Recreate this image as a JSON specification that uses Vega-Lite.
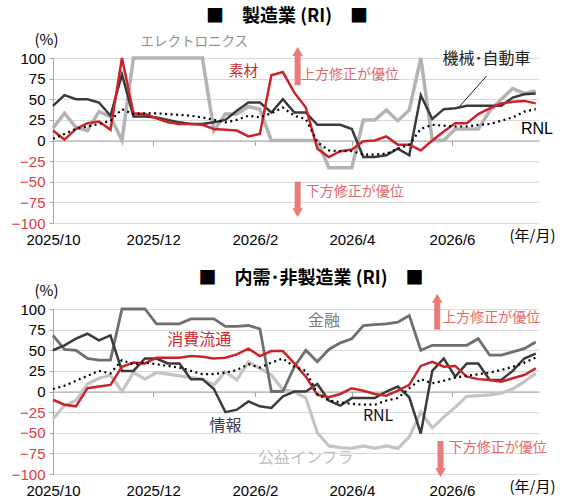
{
  "$schema": "https://vega.github.io/schema/vega-lite/v6.json",
  "padding": {"left": 11, "top": 8, "right": 0, "bottom": 0},
  "background": "#ffffff",
  "bounds": "flush",
  "spacing": 86,
  "config": {
    "view": {"stroke": null},
    "font": "Liberation Sans",
    "axisY": {
      "grid": true,
      "gridColor": "#d9d9d9",
      "domainColor": "#a6a6a6",
      "tickColor": "#a6a6a6",
      "tickSize": 4,
      "labelPadding": 4,
      "labelFontSize": 15,
      "titleFont": "Noto Sans CJK JP",
      "titleFontSize": 15,
      "titleFontWeight": "normal",
      "titleColor": "#000000"
    },
    "axisX": {
      "grid": false,
      "tickSize": 5,
      "domainColor": "#a6a6a6",
      "tickColor": "#a6a6a6",
      "labelFontSize": 15,
      "labelColor": "#000000",
      "labelFlush": false,
      "labelOverlap": false,
      "titleFont": "Noto Sans CJK JP",
      "titleFontSize": 15,
      "titleFontWeight": "normal",
      "titleColor": "#000000"
    }
  },
  "datasets": {
    "mfg": [
      {"date": "2025-10-01", "machinery": 42, "materials": 12, "electronics": 15, "rnl": 2},
      {"date": "2025-10-08", "machinery": 55, "materials": 1, "electronics": 33, "rnl": 8},
      {"date": "2025-10-15", "machinery": 50, "materials": 14, "electronics": 16, "rnl": 14},
      {"date": "2025-10-22", "machinery": 50, "materials": 21, "electronics": 12, "rnl": 17},
      {"date": "2025-10-29", "machinery": 46, "materials": 23, "electronics": 35, "rnl": 20},
      {"date": "2025-11-05", "machinery": 30, "materials": 13, "electronics": 29, "rnl": 24},
      {"date": "2025-11-12", "machinery": 80, "materials": 100, "electronics": 0, "rnl": 38},
      {"date": "2025-11-19", "machinery": 29, "materials": 33, "electronics": 100, "rnl": 32},
      {"date": "2025-11-26", "machinery": 29, "materials": 32, "electronics": 100, "rnl": 33},
      {"date": "2025-12-03", "machinery": 28, "materials": 27, "electronics": 100, "rnl": 33},
      {"date": "2025-12-10", "machinery": 25, "materials": 22, "electronics": 100, "rnl": 32},
      {"date": "2025-12-17", "machinery": 22, "materials": 20, "electronics": 100, "rnl": 31},
      {"date": "2025-12-24", "machinery": 20, "materials": 20, "electronics": 100, "rnl": 30},
      {"date": "2025-12-31", "machinery": 20, "materials": 19, "electronics": 100, "rnl": 28},
      {"date": "2026-01-07", "machinery": 22, "materials": 14, "electronics": 12, "rnl": 25},
      {"date": "2026-01-14", "machinery": 25, "materials": 13, "electronics": 32, "rnl": 22},
      {"date": "2026-01-21", "machinery": 36, "materials": 12, "electronics": 32, "rnl": 25},
      {"date": "2026-01-28", "machinery": 46, "materials": 5, "electronics": 41, "rnl": 30},
      {"date": "2026-02-04", "machinery": 46, "materials": 8, "electronics": 38, "rnl": 28},
      {"date": "2026-02-11", "machinery": 34, "materials": 79, "electronics": 0, "rnl": 33},
      {"date": "2026-02-18", "machinery": 50, "materials": 83, "electronics": 0, "rnl": 40},
      {"date": "2026-02-25", "machinery": 34, "materials": 58, "electronics": 0, "rnl": 30},
      {"date": "2026-03-04", "machinery": 34, "materials": 40, "electronics": 0, "rnl": 26},
      {"date": "2026-03-11", "machinery": 19, "materials": -10, "electronics": 0, "rnl": -2},
      {"date": "2026-03-18", "machinery": 19, "materials": -20, "electronics": -33, "rnl": -12},
      {"date": "2026-03-25", "machinery": 19, "materials": -13, "electronics": -33, "rnl": -13},
      {"date": "2026-04-01", "machinery": 14, "materials": -11, "electronics": -33, "rnl": -13},
      {"date": "2026-04-08", "machinery": -20, "materials": -1, "electronics": 25, "rnl": -17},
      {"date": "2026-04-15", "machinery": -20, "materials": 0, "electronics": 25, "rnl": -17},
      {"date": "2026-04-22", "machinery": -18, "materials": 5, "electronics": 37, "rnl": -16},
      {"date": "2026-04-29", "machinery": -10, "materials": -5, "electronics": 24, "rnl": -10},
      {"date": "2026-05-06", "machinery": -18, "materials": -5, "electronics": 37, "rnl": -5},
      {"date": "2026-05-13", "machinery": 55, "materials": -12, "electronics": 100, "rnl": 14},
      {"date": "2026-05-20", "machinery": 26, "materials": 0, "electronics": 0, "rnl": 19},
      {"date": "2026-05-27", "machinery": 38, "materials": 11, "electronics": 0, "rnl": 18},
      {"date": "2026-06-03", "machinery": 39, "materials": 21, "electronics": 14, "rnl": 17},
      {"date": "2026-06-10", "machinery": 42, "materials": 21, "electronics": 14, "rnl": 17},
      {"date": "2026-06-17", "machinery": 42, "materials": 32, "electronics": 14, "rnl": 19},
      {"date": "2026-06-24", "machinery": 42, "materials": 39, "electronics": 36, "rnl": 20},
      {"date": "2026-07-01", "machinery": 42, "materials": 45, "electronics": 50, "rnl": 24},
      {"date": "2026-07-08", "machinery": 52, "materials": 47, "electronics": 63, "rnl": 28},
      {"date": "2026-07-15", "machinery": 56, "materials": 48, "electronics": 57, "rnl": 35},
      {"date": "2026-07-22", "machinery": 57, "materials": 45, "electronics": 60, "rnl": 38}
    ],
    "nonmfg": [
      {"date": "2025-10-01", "finance": 68, "retail": -10, "info": 50, "utility": -33, "rnl": 3},
      {"date": "2025-10-08", "finance": 51, "retail": -16, "info": 56, "utility": -17, "rnl": 7},
      {"date": "2025-10-15", "finance": 50, "retail": -18, "info": 64, "utility": -11, "rnl": 13},
      {"date": "2025-10-22", "finance": 40, "retail": 4, "info": 70, "utility": 9, "rnl": 19},
      {"date": "2025-10-29", "finance": 38, "retail": 6, "info": 62, "utility": 16, "rnl": 25},
      {"date": "2025-11-05", "finance": 38, "retail": 8, "info": 68, "utility": 20, "rnl": 22},
      {"date": "2025-11-12", "finance": 100, "retail": 30, "info": 25, "utility": 0, "rnl": 38},
      {"date": "2025-11-19", "finance": 100, "retail": 35, "info": 25, "utility": 23, "rnl": 33},
      {"date": "2025-11-26", "finance": 100, "retail": 34, "info": 40, "utility": 15, "rnl": 35},
      {"date": "2025-12-03", "finance": 82, "retail": 41, "info": 40, "utility": 23, "rnl": 33},
      {"date": "2025-12-10", "finance": 82, "retail": 41, "info": 34, "utility": 21, "rnl": 31},
      {"date": "2025-12-17", "finance": 82, "retail": 41, "info": 34, "utility": 19, "rnl": 29},
      {"date": "2025-12-24", "finance": 88, "retail": 43, "info": 15, "utility": 17, "rnl": 25},
      {"date": "2025-12-31", "finance": 88, "retail": 42, "info": 15, "utility": 15, "rnl": 21},
      {"date": "2026-01-07", "finance": 88, "retail": 40, "info": 3, "utility": 8, "rnl": 21},
      {"date": "2026-01-14", "finance": 79, "retail": 41, "info": -25, "utility": 24, "rnl": 23},
      {"date": "2026-01-21", "finance": 79, "retail": 45, "info": -22, "utility": 14, "rnl": 26},
      {"date": "2026-01-28", "finance": 80, "retail": 52, "info": -12, "utility": 36, "rnl": 33},
      {"date": "2026-02-04", "finance": 76, "retail": 43, "info": -18, "utility": 28, "rnl": 29},
      {"date": "2026-02-11", "finance": 0, "retail": 49, "info": -20, "utility": 20, "rnl": 35},
      {"date": "2026-02-18", "finance": 0, "retail": 49, "info": -6, "utility": 2, "rnl": 40},
      {"date": "2026-02-25", "finance": 30, "retail": 34, "info": 0, "utility": 0, "rnl": 30},
      {"date": "2026-03-04", "finance": 50, "retail": 18, "info": 0, "utility": -8, "rnl": 25},
      {"date": "2026-03-11", "finance": 36, "retail": -4, "info": 9, "utility": -50, "rnl": -3},
      {"date": "2026-03-18", "finance": 51, "retail": -7, "info": -11, "utility": -66, "rnl": -11},
      {"date": "2026-03-25", "finance": 59, "retail": -3, "info": -17, "utility": -68, "rnl": -13},
      {"date": "2026-04-01", "finance": 64, "retail": 4, "info": -8, "utility": -69, "rnl": -15},
      {"date": "2026-04-08", "finance": 80, "retail": 1, "info": -8, "utility": -66, "rnl": -16},
      {"date": "2026-04-15", "finance": 81, "retail": -3, "info": -8, "utility": -69, "rnl": -16},
      {"date": "2026-04-22", "finance": 82, "retail": -5, "info": 0, "utility": -66, "rnl": -11},
      {"date": "2026-04-29", "finance": 84, "retail": 1, "info": 6, "utility": -69, "rnl": -8},
      {"date": "2026-05-06", "finance": 92, "retail": 8, "info": -7, "utility": -55, "rnl": 4},
      {"date": "2026-05-13", "finance": 50, "retail": 31, "info": -51, "utility": -25, "rnl": 15},
      {"date": "2026-05-20", "finance": 56, "retail": 36, "info": 25, "utility": -44, "rnl": 10},
      {"date": "2026-05-27", "finance": 56, "retail": 30, "info": 40, "utility": -31, "rnl": 13},
      {"date": "2026-06-03", "finance": 56, "retail": 31, "info": 18, "utility": -19, "rnl": 17},
      {"date": "2026-06-10", "finance": 56, "retail": 18, "info": 34, "utility": -6, "rnl": 19},
      {"date": "2026-06-17", "finance": 64, "retail": 15, "info": 34, "utility": -5, "rnl": 21},
      {"date": "2026-06-24", "finance": 44, "retail": 14, "info": 14, "utility": -4, "rnl": 23},
      {"date": "2026-07-01", "finance": 44, "retail": 12, "info": 14, "utility": -2, "rnl": 26},
      {"date": "2026-07-08", "finance": 48, "retail": 16, "info": 25, "utility": 3, "rnl": 30},
      {"date": "2026-07-15", "finance": 52, "retail": 20, "info": 40, "utility": 12, "rnl": 35},
      {"date": "2026-07-22", "finance": 60, "retail": 28, "info": 46, "utility": 22, "rnl": 41}
    ],
    "mfgLabels": [
      {"date": "2025-12-26", "value": 120, "label": "エレクトロニクス"},
      {"date": "2026-01-25", "value": 83, "label": "素材"},
      {"date": "2026-06-22", "value": 99, "label": "機械･自動車"}
    ],
    "mfgLeader": [
      {"date": "2026-06-05", "value": 40, "date2": "2026-06-22", "value2": 78}
    ],
    "mfgShafts": [
      {"date": "2026-02-27", "value": 67, "value2": 106},
      {"date": "2026-02-27", "value": -50, "value2": -85}
    ],
    "mfgHeads": [
      {"date": "2026-02-27", "value": 108, "dir": "up"},
      {"date": "2026-02-27", "value": -87.5, "dir": "down"}
    ],
    "mfgNotes": [
      {"date": "2026-03-01", "value": 79, "label": "上方修正が優位"},
      {"date": "2026-03-04", "value": -62, "label": "下方修正が優位"}
    ],
    "mfgRnl": [
      {"date": "2026-07-13", "value": 14, "label": "RNL"}
    ],
    "nonLabels": [
      {"date": "2025-12-29", "value": 62, "label": "消費流通"},
      {"date": "2026-01-14", "value": -42, "label": "情報"},
      {"date": "2026-03-04", "value": -81, "label": "公益インフラ"},
      {"date": "2026-03-15", "value": 85, "label": "金融"},
      {"date": "2026-04-17", "value": -30, "label": "RNL"}
    ],
    "nonShafts": [
      {"date": "2026-05-23", "value": 75, "value2": 110},
      {"date": "2026-05-25", "value": -60, "value2": -96}
    ],
    "nonHeads": [
      {"date": "2026-05-23", "value": 113, "dir": "up"},
      {"date": "2026-05-25", "value": -98.4, "dir": "down"}
    ],
    "nonNotes": [
      {"date": "2026-05-26", "value": 89, "label": "上方修正が優位"},
      {"date": "2026-05-30", "value": -69, "label": "下方修正が優位"}
    ]
  },
  "resolve": {"scale": {"color": "independent", "shape": "independent", "size": "independent"}},
  "vconcat": [
    {
      "width": 486,
      "height": 165,
      "title": {"text": "■　製造業 (RI)　■", "font": "Noto Sans CJK JP", "fontSize": 18, "fontWeight": "bold", "anchor": "middle", "dx": -9, "offset": 6, "color": "#000000"},
      "encoding": {
        "x": {
          "field": "date", "type": "temporal",
          "scale": {"type": "utc", "domain": [{"year": 2025, "month": 10, "date": 1, "utc": true}, {"year": 2026, "month": 7, "date": 24, "utc": true}]},
          "axis": {
            "values": [
              {"year": 2025, "month": 10, "date": 1, "utc": true},
              {"year": 2025, "month": 12, "date": 1, "utc": true},
              {"year": 2026, "month": 2, "date": 1, "utc": true},
              {"year": 2026, "month": 4, "date": 1, "utc": true},
              {"year": 2026, "month": 6, "date": 1, "utc": true}
            ],
            "format": "%Y/%-m",
            "offset": -82.5,
            "labelPadding": 87,
            "title": "(年/月)",
            "titleX": 479,
            "titleY": 95,
            "titleAlign": "center",
            "titleBaseline": "middle"
          }
        },
        "y": {
          "field": "value", "type": "quantitative",
          "scale": {"domain": [-100, 100], "nice": false},
          "axis": {
            "values": [-100, -75, -50, -25, 0, 25, 50, 75, 100],
            "labelColor": {"condition": {"test": "datum.value < 0", "value": "#e03a3a"}, "value": "#000000"},
            "title": "(%)",
            "titleAngle": 0,
            "titleX": -7,
            "titleY": -19,
            "titleAlign": "center",
            "titleBaseline": "middle"
          }
        }
      },
      "layer": [
        {"data": {"name": "mfg"}, "transform": [{"fold": ["electronics"], "as": ["series", "value"]}],
         "mark": {"type": "line", "color": "#b3b3b3", "strokeWidth": 3.5}},
        {"data": {"name": "mfg"}, "transform": [{"fold": ["machinery"], "as": ["series", "value"]}],
         "mark": {"type": "line", "color": "#3a3a3a", "strokeWidth": 2.5}},
        {"data": {"name": "mfg"}, "transform": [{"fold": ["materials"], "as": ["series", "value"]}],
         "mark": {"type": "line", "color": "#cc2229", "strokeWidth": 2.5}},
        {"data": {"name": "mfg"}, "transform": [{"fold": ["rnl"], "as": ["series", "value"]}],
         "mark": {"type": "line", "color": "#000000", "strokeWidth": 2.2, "strokeDash": [2, 3.5]}},
        {"data": {"name": "mfgLeader"}, "mark": {"type": "rule", "color": "#222222", "strokeWidth": 1},
         "encoding": {"x2": {"field": "date2"}, "y2": {"field": "value2"}}},
        {"data": {"name": "mfgShafts"}, "mark": {"type": "rule", "color": "#e97b7b", "strokeWidth": 6},
         "encoding": {"y2": {"field": "value2"}}},
        {"data": {"name": "mfgHeads"}, "mark": {"type": "point", "filled": true, "opacity": 1, "color": "#e97b7b", "size": 110},
         "encoding": {"shape": {"field": "dir", "type": "nominal", "scale": {"domain": ["up", "down"], "range": ["triangle-up", "triangle-down"]}, "legend": null}}},
        {"data": {"name": "mfgNotes"}, "mark": {"type": "text", "font": "Noto Sans CJK JP", "fontSize": 14, "align": "left", "baseline": "middle", "color": "#e46868"},
         "encoding": {"text": {"field": "label"}}},
        {"data": {"name": "mfgRnl"}, "mark": {"type": "text", "font": "Liberation Sans", "fontSize": 16, "align": "left", "baseline": "middle", "color": "#000000"},
         "encoding": {"text": {"field": "label"}}},
        {"data": {"name": "mfgLabels"}, "mark": {"type": "text", "font": "Noto Sans CJK JP", "align": "center", "baseline": "middle"},
         "encoding": {
           "text": {"field": "label"},
           "color": {"field": "label", "type": "nominal", "scale": {"domain": ["エレクトロニクス", "素材", "機械･自動車"], "range": ["#8f8f8f", "#d0282e", "#222222"]}, "legend": null},
           "size": {"field": "label", "type": "nominal", "scale": {"domain": ["エレクトロニクス", "素材", "機械･自動車"], "range": [13.5, 16, 15.5]}, "legend": null}
         }}
      ]
    },
    {
      "width": 486,
      "height": 165,
      "title": {"text": "■　内需･非製造業 (RI)　■", "font": "Noto Sans CJK JP", "fontSize": 18, "fontWeight": "bold", "anchor": "middle", "dx": 15, "offset": -5, "color": "#000000"},
      "encoding": {
        "x": {
          "field": "date", "type": "temporal",
          "scale": {"type": "utc", "domain": [{"year": 2025, "month": 10, "date": 1, "utc": true}, {"year": 2026, "month": 7, "date": 24, "utc": true}]},
          "axis": {
            "values": [
              {"year": 2025, "month": 10, "date": 1, "utc": true},
              {"year": 2025, "month": 12, "date": 1, "utc": true},
              {"year": 2026, "month": 2, "date": 1, "utc": true},
              {"year": 2026, "month": 4, "date": 1, "utc": true},
              {"year": 2026, "month": 6, "date": 1, "utc": true}
            ],
            "format": "%Y/%-m",
            "offset": -82.5,
            "labelPadding": 87,
            "title": "(年/月)",
            "titleX": 479,
            "titleY": 95,
            "titleAlign": "center",
            "titleBaseline": "middle"
          }
        },
        "y": {
          "field": "value", "type": "quantitative",
          "scale": {"domain": [-100, 100], "nice": false},
          "axis": {
            "values": [-100, -75, -50, -25, 0, 25, 50, 75, 100],
            "labelColor": {"condition": {"test": "datum.value < 0", "value": "#e03a3a"}, "value": "#000000"},
            "title": "(%)",
            "titleAngle": 0,
            "titleX": -7,
            "titleY": -19,
            "titleAlign": "center",
            "titleBaseline": "middle"
          }
        }
      },
      "layer": [
        {"data": {"name": "nonmfg"}, "transform": [{"fold": ["utility"], "as": ["series", "value"]}],
         "mark": {"type": "line", "color": "#c4c4c4", "strokeWidth": 3.2}},
        {"data": {"name": "nonmfg"}, "transform": [{"fold": ["finance"], "as": ["series", "value"]}],
         "mark": {"type": "line", "color": "#6f6f6f", "strokeWidth": 2.8}},
        {"data": {"name": "nonmfg"}, "transform": [{"fold": ["info"], "as": ["series", "value"]}],
         "mark": {"type": "line", "color": "#3a3a3a", "strokeWidth": 2.5}},
        {"data": {"name": "nonmfg"}, "transform": [{"fold": ["retail"], "as": ["series", "value"]}],
         "mark": {"type": "line", "color": "#cc2229", "strokeWidth": 2.5}},
        {"data": {"name": "nonmfg"}, "transform": [{"fold": ["rnl"], "as": ["series", "value"]}],
         "mark": {"type": "line", "color": "#000000", "strokeWidth": 2.2, "strokeDash": [2, 3.5]}},
        {"data": {"name": "nonShafts"}, "mark": {"type": "rule", "color": "#e97b7b", "strokeWidth": 6},
         "encoding": {"y2": {"field": "value2"}}},
        {"data": {"name": "nonHeads"}, "mark": {"type": "point", "filled": true, "opacity": 1, "color": "#e97b7b", "size": 110},
         "encoding": {"shape": {"field": "dir", "type": "nominal", "scale": {"domain": ["up", "down"], "range": ["triangle-up", "triangle-down"]}, "legend": null}}},
        {"data": {"name": "nonNotes"}, "mark": {"type": "text", "font": "Noto Sans CJK JP", "fontSize": 14, "align": "left", "baseline": "middle", "color": "#e46868"},
         "encoding": {"text": {"field": "label"}}},
        {"data": {"name": "nonLabels"}, "mark": {"type": "text", "font": "Noto Sans CJK JP", "align": "center", "baseline": "middle"},
         "encoding": {
           "text": {"field": "label"},
           "color": {"field": "label", "type": "nominal", "scale": {"domain": ["消費流通", "情報", "公益インフラ", "金融", "RNL"], "range": ["#d0282e", "#3c3c50", "#c0c0c0", "#7a7a7a", "#111111"]}, "legend": null},
           "size": {"field": "label", "type": "nominal", "scale": {"domain": ["消費流通", "情報", "公益インフラ", "金融", "RNL"], "range": [16, 16, 14.5, 16, 16]}, "legend": null}
         }}
      ]
    }
  ]
}
